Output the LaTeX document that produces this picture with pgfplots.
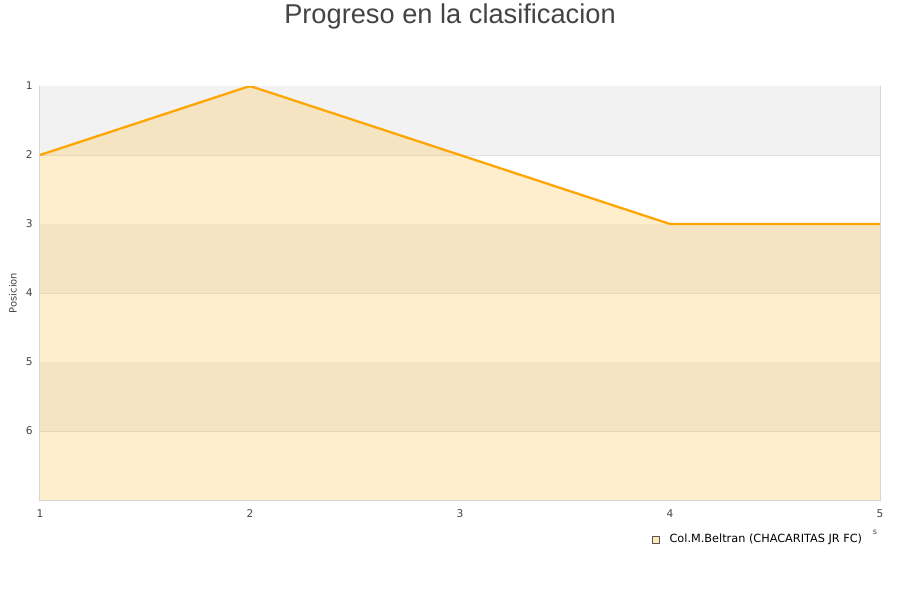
\documentclass[border=0pt]{standalone}
\usepackage{pgfplots}
\pgfplotsset{compat=1.18}
\usepackage{fontspec}
\setmainfont{DejaVu Sans}
\newfontfamily\titlefont{Liberation Sans}

\definecolor{bandgray}{HTML}{F2F2F2}
\definecolor{gridgray}{HTML}{E0E0E0}
\definecolor{framegray}{HTML}{D6D6D6}
\definecolor{txtgray}{HTML}{444444}
\definecolor{lineorange}{HTML}{FFA500}
\definecolor{areafill}{HTML}{FCC450}

\begin{document}
\begin{tikzpicture}
\path[use as bounding box] (0,0) rectangle (675bp,450bp);

\begin{axis}[
    at={(30bp,75bp)}, anchor=south west,
    scale only axis,
    width=630bp, height=310.5bp,
    xmin=1, xmax=5, ymin=1, ymax=7,
    y dir=reverse,
    xtick={1,2,3,4,5},
    ytick={1,2,3,4,5,6},
    tick style={draw=none},
    ymajorgrids=true,
    grid style={line width=0.75bp, draw=gridgray},
    axis line style={draw=framegray, line width=0.75bp},
    ticklabel style={font=\fontsize{8}{9}\selectfont, text=txtgray},
    /pgf/number format/assume math mode=true,
    ylabel={Posicion},
    ylabel style={font=\fontsize{7.5}{9}\selectfont, text=txtgray},
    yticklabel style={xshift=-2bp},
    xticklabel style={yshift=-4bp},
]
% background bands
\addplot[draw=none, fill=bandgray, forget plot] coordinates {(1,1) (5,1) (5,2) (1,2)} -- cycle;
\addplot[draw=none, fill=bandgray, forget plot] coordinates {(1,3) (5,3) (5,4) (1,4)} -- cycle;
\addplot[draw=none, fill=bandgray, forget plot] coordinates {(1,5) (5,5) (5,6) (1,6)} -- cycle;

% area under the position line
\addplot[draw=none, fill=areafill, fill opacity=0.29, forget plot]
    coordinates {(1,2) (2,1) (3,2) (4,3) (5,3) (5,7) (1,7)} -- cycle;

% position line
\addplot[lineorange, line width=1.7bp, mark=none]
    coordinates {
        (1,2)
        (2,1)
        (3,2)
        (4,3)
        (5,3)
    };
\end{axis}

\node[font=\titlefont\fontsize{20.5}{24}\selectfont, text=txtgray] at (337.5bp,438bp) {Progreso en la clasificacion};

% legend
\draw[draw=gray!70!black, fill=areafill!40, line width=0.4bp] (489bp,42.5bp) rectangle (494.25bp,47.75bp);
\node[anchor=west, font=\fontsize{8.5}{9}\selectfont, text=black, inner sep=0pt] at (502bp,45.2bp) {Col.M.Beltran (CHACARITAS JR FC)};
\node[font=\fontsize{6}{7}\selectfont, text=txtgray, inner sep=0pt] at (656.25bp,51bp) {s};
\end{tikzpicture}
\end{document}
